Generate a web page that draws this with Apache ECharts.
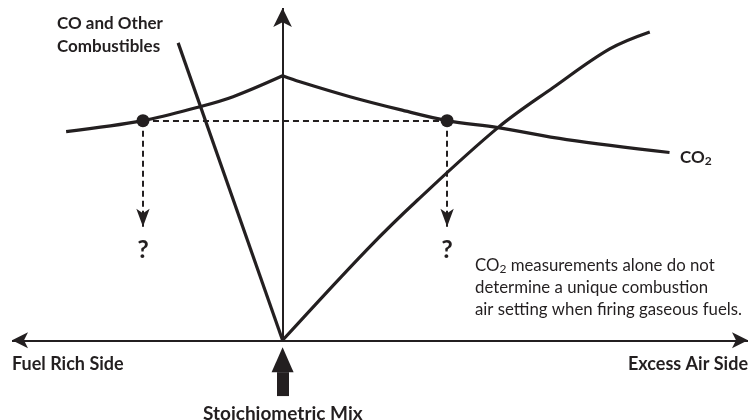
<!DOCTYPE html>
<html>
<head>
<meta charset="utf-8">
<script src="https://cdn.jsdelivr.net/npm/echarts@6/dist/echarts.min.js"></script>
<style>html,body{margin:0;padding:0;background:#fff}#c{width:751px;height:420px}</style>
</head>
<body>
<div id="c"></div>
<script>
// Conceptual axes: x = air setting relative to stoichiometric (0), y = relative concentration
const xRange = [-10, 17.2];
const yRange = [-2.4, 10];
// CO2 curve, fuel-rich side and excess-air side (peak at stoichiometric)
const co2Left = [[-8.0, 6.28], [-5.16, 6.61], [-3.05, 7.03], [-1.83, 7.33], [0, 7.96]];
const co2Right = [[0, 7.96], [0.64, 7.78], [2.49, 7.33], [4.34, 6.94], [6.08, 6.61], [7.96, 6.40], [10.5, 6.04], [14.3, 5.65]];
// CO and other combustibles (straight line down to stoichiometric)
const coLine = [[-3.86, 8.95], [0, 0]];
// Excess air / O2 curve
const airCurve = [[0, 0], [3.12, 2.73], [5.0, 4.23], [7.96, 6.40], [9.99, 7.60], [12.09, 8.77], [13.57, 9.28]];
// Equal-CO2 points and where their dashed arrows end
const sameCo2Points = [[-5.16, 6.61], [6.08, 6.61]];
const arrowEndY = 3.42;
const questionY = 2.73;
// Stoichiometric arrow (below the axis)
const stoichArrow = { x: 0, bottom: -1.68, headBase: -0.96, headCenter: -0.59 };

const INK = '#231f20';
const FONT = 'Lato';
const chart = echarts.init(document.getElementById('c'), null, { renderer: 'canvas' });

function lineSeries(name, data, smooth) {
  return {
    name, type: 'line', data, smooth: smooth ? 0.35 : false, symbol: 'none',
    lineStyle: { color: INK, width: 3.2 }, silent: true, z: 3
  };
}
function txt(props, text, size, weight, extra) {
  return Object.assign({ type: 'text', silent: true, style: Object.assign({
    text, fill: INK, fontFamily: FONT, fontSize: size, fontWeight: weight }, extra || {}) }, props);
}

const option = {
  animation: false,
  backgroundColor: '#fff',
  grid: { left: 12, width: 736, top: 8, bottom: -1 },
  xAxis: { type: 'value', min: xRange[0], max: xRange[1], show: false },
  yAxis: { type: 'value', min: yRange[0], max: yRange[1], show: false },
  series: [
    lineSeries('CO2 fuel rich', co2Left, true),
    lineSeries('CO2 excess air', co2Right, true),
    lineSeries('CO and Other Combustibles', coLine, false),
    lineSeries('Excess air', airCurve, true),
    {
      name: 'axes', type: 'line', data: [], silent: true, z: 2,
      markLine: {
        silent: true, animation: false, label: { show: false },
        data: [
          [{ coord: [xRange[0], 0], symbol: 'arrow', symbolSize: [12, 16] },
           { coord: [xRange[1], 0], symbol: 'arrow', symbolSize: [12, 16] }],
          [{ coord: [0, 0], symbol: 'none' },
           { coord: [0, yRange[1]], symbol: 'arrow', symbolSize: [14, 19] }]
        ],
        lineStyle: { color: INK, width: 2, type: 'solid', opacity: 1 }
      }
    },
    {
      name: 'dashed', type: 'line', data: [], silent: true, z: 2,
      markLine: {
        silent: true, animation: false, label: { show: false },
        lineStyle: { color: INK, width: 2, type: [6, 4], opacity: 1 },
        data: [
          [{ coord: sameCo2Points[0], symbol: 'none' }, { coord: sameCo2Points[1], symbol: 'none' }],
          [{ coord: sameCo2Points[0], symbol: 'none' },
           { coord: [sameCo2Points[0][0], arrowEndY], symbol: 'arrow', symbolSize: [10, 18] }],
          [{ coord: sameCo2Points[1], symbol: 'none' },
           { coord: [sameCo2Points[1][0], arrowEndY], symbol: 'arrow', symbolSize: [10, 18] }]
        ]
      }
    },
    {
      name: 'points', type: 'scatter', data: sameCo2Points, symbol: 'circle', symbolSize: 13,
      itemStyle: { color: INK, opacity: 1 }, silent: true, z: 5
    },
    {
      name: 'stoich shaft', type: 'line', data: [], silent: true, z: 4,
      markLine: {
        silent: true, animation: false, label: { show: false }, symbol: 'none',
        lineStyle: { color: INK, width: 12, type: 'solid', cap: 'butt', opacity: 1 },
        data: [[{ coord: [stoichArrow.x, stoichArrow.bottom] }, { coord: [stoichArrow.x, stoichArrow.headBase] }]]
      }
    },
    {
      name: 'stoich head', type: 'scatter', data: [[stoichArrow.x, stoichArrow.headCenter]],
      symbol: 'triangle', symbolSize: [22, 25], itemStyle: { color: INK, opacity: 1 }, silent: true, z: 5
    }
  ],
  graphic: [
    txt({ left: 57, top: 15 }, 'CO and Other', 17, 'bold'),
    txt({ left: 57, top: 38 }, 'Combustibles', 17, 'bold'),
    txt({ left: 680, top: 149 }, '{a|CO}{s|2}', 17, 'bold', {
      rich: { a: { fontFamily: FONT, fontSize: 17, fontWeight: 'bold', fill: INK },
              s: { fontFamily: FONT, fontSize: 12, fontWeight: 'bold', fill: INK, padding: [8, 0, 0, 0] } } }),
    txt({ left: 12, top: 355 }, 'Fuel Rich Side', 18, 'bold'),
    txt({ right: 3, top: 355 }, 'Excess Air Side', 18, 'bold'),
    txt({ left: 203, top: 404 }, 'Stoichiometric Mix', 19, 'bold'),
    txt({ left: 475, top: 256 },
      '{a|CO}{s|2}{a| measurements alone do not}\n{a|determine a unique combustion}\n{a|air setting when firing gaseous fuels.}', 17, 'normal', {
      rich: { a: { fontFamily: FONT, fontSize: 16.8, fill: INK, lineHeight: 22 },
              s: { fontFamily: FONT, fontSize: 12, fill: INK, lineHeight: 22, padding: [7, 0, 0, 0] } } })
  ]
};
chart.setOption(option);

// Question marks placed below each dashed arrow, positioned through the grid's scales
const qMarks = sameCo2Points.map((p, i) => {
  const px = chart.convertToPixel({ gridIndex: 0 }, [p[0], questionY]);
  return { type: 'text', id: 'q' + i, silent: true, x: px[0], y: px[1], z: 10,
           style: { text: '?', fill: INK, fontFamily: FONT, fontWeight: 'bold', fontSize: 25,
                    align: 'center', verticalAlign: 'middle' } };
});
chart.setOption({ graphic: qMarks });
</script>
</body>
</html>
